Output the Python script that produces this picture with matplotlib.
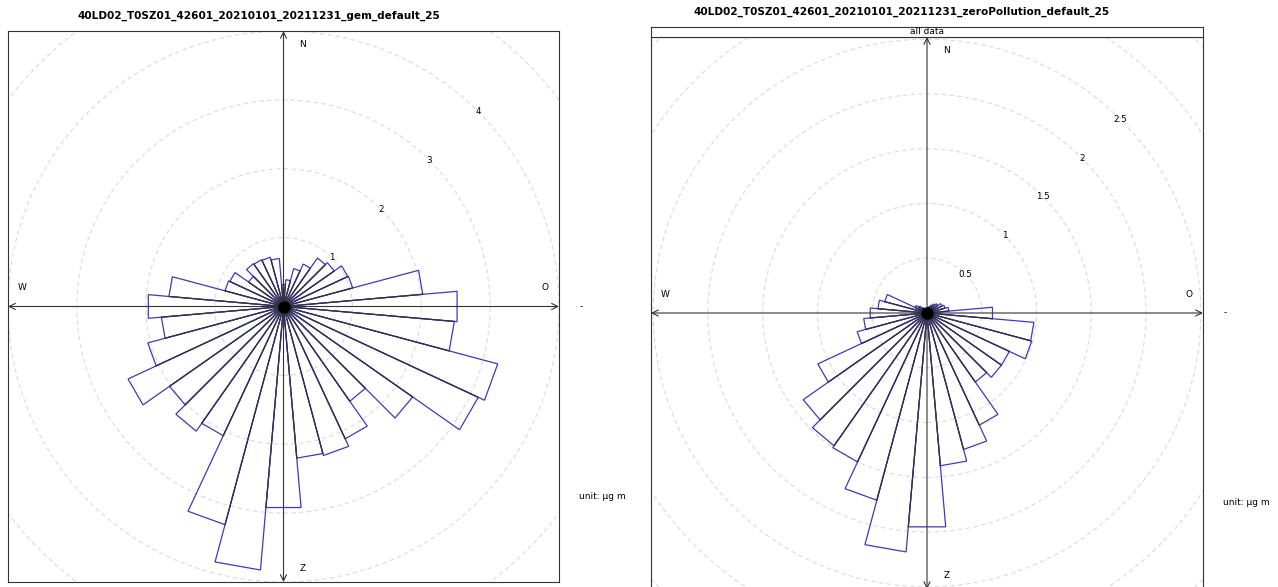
import numpy as np
import matplotlib.pyplot as plt
from matplotlib.patches import Polygon, Circle

# wind direction sectors (centre of each 10 degree bin, clockwise from north)
directions = np.arange(0, 360, 10)

# mean concentration per sector
gem_default = [0.32, 0.39, 0.57, 0.68, 0.86, 0.90, 1.03, 1.04, 2.03, 2.53,
               2.49, 3.22, 3.12, 2.29, 1.68, 2.12, 2.24, 2.21, 2.93, 3.84,
               3.28, 2.07, 2.21, 2.02, 2.49, 2.04, 1.78, 1.97, 1.67, 0.88,
               0.86, 0.62, 0.76, 0.75, 0.74, 0.70]
zero_pollution = [0.04, 0.05, 0.06, 0.08, 0.10, 0.12, 0.15, 0.17, 0.20, 0.60,
                  0.98, 0.99, 0.83, 0.83, 0.77, 1.13, 1.29, 1.40, 1.96, 2.19,
                  1.77, 1.50, 1.48, 1.38, 1.10, 0.66, 0.58, 0.52, 0.45, 0.40,
                  0.12, 0.09, 0.06, 0.05, 0.04, 0.04]

gem_rings = [1, 2, 3, 4, 5]
gem_ring_labels = ['1', '2', '3', '4']
zero_rings = [0.5, 1, 1.5, 2, 2.5, 3, 3.5]
zero_ring_labels = ['0.5', '1', '1.5', '2', '2.5']

titles = ['40LD02_T0SZ01_42601_20210101_20211231_gem_default_25',
          '40LD02_T0SZ01_42601_20210101_20211231_zeroPollution_default_25']

BLUE = '#3a3ac2'
DARK = '#333333'


def rose(ax, vals, lim, rings, ring_labels):
    ax.set_xlim(-lim, lim)
    ax.set_ylim(-lim, lim)
    ax.set_xticks([])
    ax.set_yticks([])
    for s in ax.spines.values():
        s.set_color(DARK)
        s.set_linewidth(0.8)

    for r in rings:
        ax.add_patch(Circle((0, 0), r, fill=False, ls=(0, (4, 3)),
                            ec='#dadada', lw=0.8, zorder=1))
    d = np.sqrt(0.5)
    for lab in ring_labels:
        r = float(lab)
        ax.text(r * d, r * d, lab, ha='center', va='center', fontsize=6.3, zorder=5)

    n = len(vals)
    for a, v in zip(directions, vals):
        a1, a2 = np.radians(a - 5), np.radians(a + 5)
        pts = [(0, 0), (v * np.sin(a1), v * np.cos(a1)), (v * np.sin(a2), v * np.cos(a2))]
        ax.add_patch(Polygon(pts, closed=True, fill=False, ec=BLUE, lw=0.9, zorder=2))
    # sector boundaries in black up to the shorter neighbour
    for i in range(n):
        b = np.radians(directions[i] + 5)
        r = min(vals[i], vals[(i + 1) % n])
        ax.plot([0, r * np.sin(b)], [0, r * np.cos(b)], color=DARK, lw=0.8, zorder=3)

    arrow = dict(arrowstyle='<->', color=DARK, lw=0.8, shrinkA=0, shrinkB=0,
                 mutation_scale=11)
    ax.annotate('', xy=(lim, 0), xytext=(-lim, 0), arrowprops=arrow, zorder=4)
    ax.annotate('', xy=(0, lim), xytext=(0, -lim), arrowprops=arrow, zorder=4)
    ax.plot(0, 0, 'o', color='black', ms=9, mew=0, zorder=6)

    kw = dict(transform=ax.transAxes, fontsize=6.5, ha='center', va='center')
    ax.text(0.535, 0.975, 'N', **kw)
    ax.text(0.535, 0.024, 'Z', **kw)
    ax.text(0.025, 0.534, 'W', **kw)
    ax.text(0.975, 0.534, 'O', **kw)
    ax.text(1.041, 0.50, '-', **kw)
    ax.text(1.036, 0.156, 'unit: µg m', transform=ax.transAxes, fontsize=6.5,
            ha='left', va='center', clip_on=False)


fig = plt.figure(figsize=(12.78, 5.87), dpi=100)
W, H = 1278, 587

ax1 = fig.add_axes([8 / W, (H - 582) / H, 551 / W, 551 / H])
rose(ax1, gem_default, 4.0, gem_rings, gem_ring_labels)

ax2 = fig.add_axes([651 / W, (H - 589) / H, 552 / W, 552 / H])
rose(ax2, zero_pollution, 2.52, zero_rings, zero_ring_labels)

# strip above the second panel
strip = fig.add_axes([651 / W, (H - 37) / H, 552 / W, 10 / H])
strip.set_xticks([])
strip.set_yticks([])
for s in strip.spines.values():
    s.set_color(DARK)
    s.set_linewidth(0.8)
strip.text(0.5, 0.5, 'all data', ha='center', va='center', fontsize=6.5)

fig.text(259 / W, 1 - 16 / H, titles[0], ha='center', va='center',
         fontsize=7.6, fontweight='bold')
fig.text(902 / W, 1 - 12 / H, titles[1], ha='center', va='center',
         fontsize=7.6, fontweight='bold')

fig.savefig('out.png', dpi=100)
